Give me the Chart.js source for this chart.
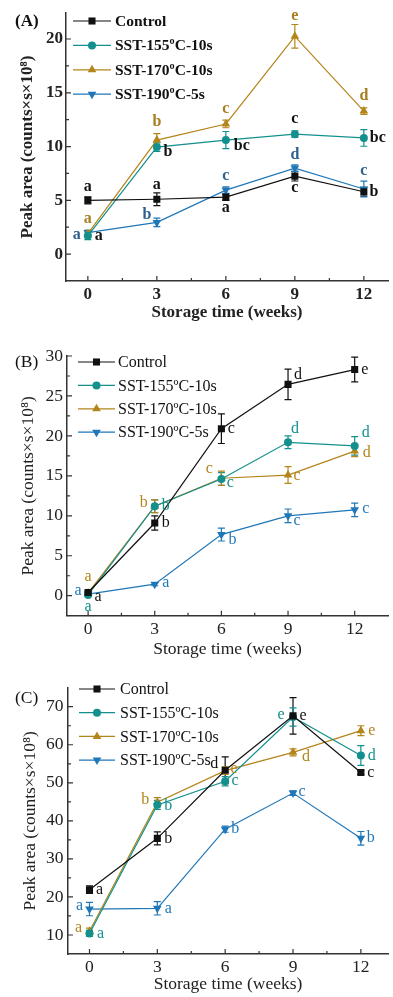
<!DOCTYPE html>
<html><head><meta charset="utf-8">
<script src="https://cdn.jsdelivr.net/npm/chart.js@4.4.1/dist/chart.umd.min.js"></script>
<style>
html,body{margin:0;padding:0;background:#fff;}
body{width:393px;height:997px;position:relative;overflow:hidden;}
canvas{position:absolute;left:0;display:block;}
</style></head><body>
<canvas id="cA" width="393" height="325" style="top:0px"></canvas>
<canvas id="cB" width="393" height="335" style="top:325px"></canvas>
<canvas id="cC" width="393" height="337" style="top:660px"></canvas>
<script>
// ---------------- DATA ----------------
const weeks = [0, 3, 6, 9, 12];
const seriesNames = ['Control', 'SST-155ºC-10s', 'SST-170ºC-10s', 'SST-190ºC-5s'];
const xTickLabels = [0, 3, 6, 9, 12];

// Panel A
const aControl = [5.0, 5.1, 5.3, 7.25, 5.8];
const aControlErr = [0.33, 0.6, 0.3, 0.45, 0.4];
const a155 = [1.7, 9.95, 10.6, 11.15, 10.8];
const a155Err = [0.35, 0.4, 0.8, 0.3, 0.77];
const a170 = [1.9, 10.6, 12.1, 20.25, 13.3];
const a170Err = [0.3, 0.6, 0.35, 1.1, 0.3];
const a190 = [2.0, 2.95, 5.95, 8.0, 6.05];
const a190Err = [0.2, 0.4, 0.3, 0.3, 0.74];
const aYTicks = [0, 5, 10, 15, 20];
const aLetControl = ['a', 'a', 'a', 'c', 'b'];
const aLet155 = ['a', 'b', 'bc', 'c', 'bc'];
const aLet170 = ['a', 'b', 'c', 'e', 'd'];
const aLet190 = ['a', 'b', 'c', 'd', 'c'];

// Panel B
const bControl = [0.4, 9.1, 20.9, 26.45, 28.3];
const bControlErr = [0.2, 0.9, 1.85, 1.9, 1.55];
const b155 = [0.1, 11.2, 14.6, 19.2, 18.75];
const b155Err = [0.2, 0.8, 0.8, 0.8, 1.15];
const b170 = [0.35, 11.2, 14.7, 15.1, 18.1];
const b170Err = [0.2, 0.8, 0.9, 1.05, 0.7];
const b190 = [0.2, 1.45, 7.65, 10.0, 10.75];
const b190Err = [0.2, 0.2, 0.8, 0.85, 0.85];
const bYTicks = [0, 5, 10, 15, 20, 25, 30];
const bLetControl = ['a', 'b', 'c', 'd', 'e'];
const bLet155 = ['a', 'b', 'c', 'd', 'd'];
const bLet170 = ['a', 'b', 'c', 'c', 'd'];
const bLet190 = ['a', 'a', 'b', 'c', 'c'];

// Panel C
const cControl = [21.9, 35.4, 53.3, 67.6, 52.7];
const cControlErr = [1.0, 1.7, 3.5, 4.8, 0.5];
const c155 = [10.4, 44.2, 50.4, 67.3, 57.2];
const c155Err = [0.8, 1.2, 1.2, 2.4, 2.6];
const c170 = [11.0, 44.9, 53.2, 58.0, 63.7];
const c170Err = [0.8, 1.2, 1.0, 0.9, 1.3];
const c190 = [16.8, 17.0, 37.8, 47.3, 35.4];
const c190Err = [1.75, 1.75, 0.8, 0.6, 1.8];
const cYTicks = [10, 20, 30, 40, 50, 60, 70];
const cLetControl = ['a', 'b', 'd', 'e', 'c'];
const cLet155 = ['a', 'b', 'c', 'e', 'd'];
const cLet170 = ['a', 'b', 'e', 'd', 'e'];
const cLet190 = ['a', 'a', 'b', 'c', 'b'];

// ---------------- STYLE ----------------
const SERIF = "'Liberation Serif', 'DejaVu Serif', serif";
const colors = ['#111111', '#13908d', '#b3851a', '#1f77b8'];
const pStyles = ['rect', 'circle', 'triangle', 'triangle'];
const pRadius = [5, 4, 5, 5];
const pRot = [0, 0, 0, 180];

// letter offsets (px) relative to the point, per panel / series / point
const aPos = [
  [[0,-13],[0,-14],[0,11],[0,12],[10,0]],
  [[11,0],[11,5],[16,6],[0,-15],[14,0]],
  [[0,-15],[0,-18],[0,-15],[0,-20],[0,-15]],
  [[-11,2],[-10,-8],[0,-14],[0,-13],[0,-18]]
];
const bPos = [
  [[10,4],[11,0],[10,0],[10,-10],[10,0]],
  [[0,12],[11,0],[9,4],[7,-14],[11,-13]],
  [[0,-16],[-11,-3],[-12,-9],[9,1],[12,2]],
  [[-10,-3],[11,-1],[11,5],[9,5],[11,-1]]
];
const cPos = [
  [[10,0],[11,0],[-11,-6],[10,0],[10,0]],
  [[11,0],[11,1],[10,0],[-12,-2],[11,0]],
  [[-11,-3],[-12,-2],[9,-2],[13,4],[11,0]],
  [[-10,-3],[11,0],[10,0],[9,-1],[10,-1]]
];

const decor = {
  id: 'decor',
  beforeDatasetsDraw(chart, args, o) {
    const ctx = chart.ctx, xs = chart.scales.x, ys = chart.scales.y;
    o.errors.forEach((errs, i) => {
      ctx.save();
      ctx.strokeStyle = o.errColors[i];
      ctx.lineWidth = 1.2;
      errs.forEach((e, j) => {
        const v = chart.data.datasets[i].data[j].y;
        const px = xs.getPixelForValue(chart.data.datasets[i].data[j].x);
        const y1 = ys.getPixelForValue(v + e), y2 = ys.getPixelForValue(v - e);
        ctx.beginPath();
        ctx.moveTo(px, y1); ctx.lineTo(px, y2);
        ctx.moveTo(px - 3.5, y1); ctx.lineTo(px + 3.5, y1);
        ctx.moveTo(px - 3.5, y2); ctx.lineTo(px + 3.5, y2);
        ctx.stroke();
      });
      ctx.restore();
    });
  },
  afterDraw(chart, args, o) {
    const ctx = chart.ctx, xs = chart.scales.x, ys = chart.scales.y;
    const ca = chart.chartArea;
    ctx.save();
    // inner ticks
    ctx.strokeStyle = '#333'; ctx.lineWidth = 1.2;
    ctx.beginPath();
    o.yMajor.forEach(v => { const p = ys.getPixelForValue(v); ctx.moveTo(ca.left, p); ctx.lineTo(ca.left + 5, p); });
    o.yMinor.forEach(v => { const p = ys.getPixelForValue(v); ctx.moveTo(ca.left, p); ctx.lineTo(ca.left + 3, p); });
    o.xMajor.forEach(v => { const p = xs.getPixelForValue(v); ctx.moveTo(p, ca.bottom); ctx.lineTo(p, ca.bottom - 5); });
    o.xMinor.forEach(v => { const p = xs.getPixelForValue(v); ctx.moveTo(p, ca.bottom); ctx.lineTo(p, ca.bottom - 3); });
    ctx.stroke();
    // letters
    ctx.font = o.letterFont;
    ctx.textAlign = 'center'; ctx.textBaseline = 'middle';
    o.letters.forEach((lets, i) => {
      ctx.fillStyle = o.letterColors[i];
      lets.forEach((t, j) => {
        const d = chart.data.datasets[i].data[j];
        const px = xs.getPixelForValue(d.x), py = ys.getPixelForValue(d.y);
        ctx.fillText(t, px + o.pos[i][j][0], py + o.pos[i][j][1]);
      });
    });
    // legend
    ctx.font = o.legendFont; ctx.textAlign = 'left';
    chart.data.datasets.forEach((ds, i) => {
      const y = o.legend.y0 + i * o.legend.dy;
      ctx.strokeStyle = ds.borderColor; ctx.lineWidth = 1.2;
      ctx.beginPath(); ctx.moveTo(o.legend.x1, y); ctx.lineTo(o.legend.x2, y); ctx.stroke();
      ctx.fillStyle = ds.backgroundColor;
      Chart.helpers.drawPoint(ctx, {pointStyle: ds.pointStyle, radius: ds.pointRadius, rotation: ds.pointRotation, borderWidth: 0}, (o.legend.x1 + o.legend.x2) / 2, y);
      ctx.fillStyle = '#111';
      ctx.fillText(ds.label, o.legend.tx, y + 1);
    });
    // panel label
    ctx.font = o.panelFont; ctx.fillStyle = '#111';
    ctx.fillText(o.panel, o.panelX, o.panelY);
    ctx.restore();
  }
};

function build(id, p) {
  const datasets = p.series.map((vals, i) => ({
    label: seriesNames[i],
    data: weeks.map((w, j) => ({x: w, y: vals[j]})),
    borderColor: colors[i], backgroundColor: colors[i],
    borderWidth: 1.2, pointStyle: pStyles[i], pointRadius: pRadius[i],
    pointRotation: pRot[i], pointBorderWidth: 0, tension: 0
  }));
  const H = document.getElementById(id).height;
  const tickFont = {family: SERIF, size: p.tickSize, weight: p.bold ? 'bold' : 'normal'};
  const titleFont = {family: SERIF, size: p.titleSize, weight: p.bold ? 'bold' : 'normal'};
  new Chart(document.getElementById(id), {
    type: 'line',
    data: {datasets},
    options: {
      responsive: false, animation: false, events: [],
      layout: {padding: {top: p.top, right: p.right, left: 0, bottom: 0}},
      plugins: {
        legend: {display: false}, tooltip: {enabled: false},
        decor: p.decor
      },
      scales: {
        x: {
          type: 'linear', min: p.xMin, max: p.xMax,
          afterBuildTicks: s => { s.ticks = xTickLabels.map(v => ({value: v})); },
          afterFit: s => { s.height = H - p.bottom; },
          grid: {display: false, drawTicks: false},
          border: {display: true, color: '#333', width: 1.5},
          ticks: {font: tickFont, color: '#222', padding: p.xTickPad, maxRotation: 0, autoSkip: false},
          title: {display: true, text: 'Storage time (weeks)', font: titleFont, color: '#222', padding: {top: 0, bottom: p.xTitlePad}}
        },
        y: {
          type: 'linear', min: p.yMin, max: p.yMax,
          afterBuildTicks: s => { s.ticks = p.yTicks.map(v => ({value: v})); },
          afterFit: s => { s.width = p.left; },
          grid: {display: false, drawTicks: false},
          border: {display: true, color: '#333', width: 1.5},
          ticks: {font: tickFont, color: '#222', padding: p.yTickPad},
          title: {display: true, text: 'Peak area (counts×s×10⁸)', font: titleFont, color: '#222', padding: {top: p.yTitlePad, bottom: 0}}
        }
      }
    },
    plugins: [decor]
  });
}

build('cA', {
  series: [aControl, a155, a170, a190], bold: true, tickSize: 17, titleSize: 17,
  top: 11, right: 1, left: 66, bottom: 281, xMin: -0.95, xMax: 13.05, yMin: -2.5, yMax: 22.4,
  yTicks: aYTicks, xTickPad: 3, xTitlePad: 2, yTickPad: 3, yTitlePad: 17,
  decor: {
    errors: [aControlErr, a155Err, a170Err, a190Err], errColors: colors,
    letters: [aLetControl, aLet155, aLet170, aLet190], pos: aPos,
    letterColors: ['#111', '#111', '#a87d1e', '#2e5f8f'],
    letterFont: "bold 16px 'Liberation Serif', serif",
    yMajor: aYTicks, yMinor: [2.5, 7.5, 12.5, 17.5], xMajor: weeks, xMinor: [1.5, 4.5, 7.5, 10.5],
    legend: {x1: 73, x2: 111, tx: 115, y0: 21, dy: 24.4},
    legendFont: "bold 15.5px 'Liberation Serif', serif",
    panel: '(A)', panelX: 15, panelY: 22, panelFont: "bold 17px 'Liberation Serif', serif"
  }
});

build('cB', {
  series: [bControl, b155, b170, b190], bold: false, tickSize: 17.5, titleSize: 17.5,
  top: 31, right: 5, left: 67, bottom: 290.7, xMin: -0.95, xMax: 13.5, yMin: -2.5, yMax: 30,
  yTicks: bYTicks, xTickPad: 3, xTitlePad: 0.5, yTickPad: 4, yTitlePad: 18,
  decor: {
    errors: [bControlErr, b155Err, b170Err, b190Err], errColors: colors,
    letters: [bLetControl, bLet155, bLet170, bLet190], pos: bPos,
    letterColors: colors,
    letterFont: "16px 'Liberation Serif', serif",
    yMajor: bYTicks, yMinor: [2.5, 7.5, 12.5, 17.5, 22.5, 27.5], xMajor: weeks, xMinor: [1.5, 4.5, 7.5, 10.5],
    legend: {x1: 78, x2: 115, tx: 118, y0: 37, dy: 23.4},
    legendFont: "16px 'Liberation Serif', serif",
    panel: '(B)', panelX: 15, panelY: 37, panelFont: "17.5px 'Liberation Serif', serif"
  }
});

build('cC', {
  series: [cControl, c155, c170, c190], bold: false, tickSize: 17.5, titleSize: 17.5,
  top: 27.7, right: 0, left: 68, bottom: 294, xMin: -0.95, xMax: 13.2, yMin: 5, yMax: 75,
  yTicks: cYTicks, xTickPad: 3, xTitlePad: 2.5, yTickPad: 4.5, yTitlePad: 20,
  decor: {
    errors: [cControlErr, c155Err, c170Err, c190Err], errColors: colors,
    letters: [cLetControl, cLet155, cLet170, cLet190], pos: cPos,
    letterColors: colors,
    letterFont: "16px 'Liberation Serif', serif",
    yMajor: cYTicks, yMinor: [15, 25, 35, 45, 55, 65], xMajor: weeks, xMinor: [1.5, 4.5, 7.5, 10.5],
    legend: {x1: 79, x2: 115, tx: 120, y0: 29, dy: 23.7},
    legendFont: "16px 'Liberation Serif', serif",
    panel: '(C)', panelX: 15, panelY: 38, panelFont: "17.5px 'Liberation Serif', serif"
  }
});
</script>
</body></html>
